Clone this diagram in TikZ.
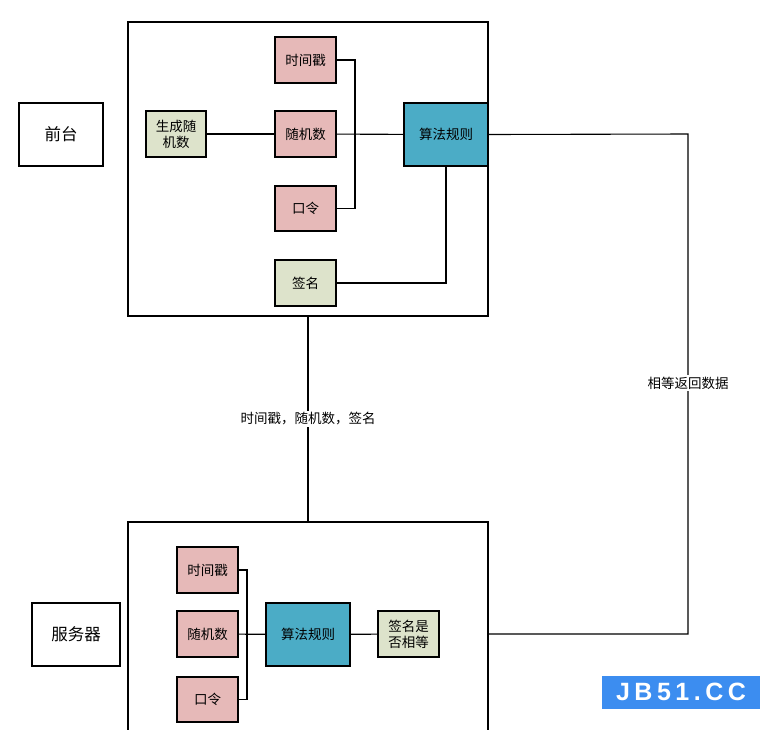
\documentclass[tikz,border=0pt]{standalone}
\usepackage{fontspec}
\setmainfont{Noto Sans CJK SC}
\newfontfamily\wmfont{Liberation Sans}[LetterSpace=18]
\usetikzlibrary{positioning}
\definecolor{keypink}{HTML}{E6B9B8}
\definecolor{keygreen}{HTML}{DDE3CB}
\definecolor{algoblue}{HTML}{4BACC6}
\definecolor{wmblue}{HTML}{3C8DF0}

\begin{document}
\begin{tikzpicture}[x=1pt,y=-1pt,font=\fontsize{13.5}{16}\selectfont,
  frame/.style={draw,line width=1.1pt,minimum width=360pt},
  role/.style={draw,line width=1.1pt,minimum height=63pt,font=\fontsize{16.5}{19}\selectfont},
  item/.style={draw,line width=1.1pt,fill=keypink,minimum width=61pt,minimum height=46pt,align=center},
  gitem/.style={item,fill=keygreen},
  algo/.style={draw,line width=1.1pt,fill=algoblue,minimum width=84pt,minimum height=63pt},
  link/.style={draw,line width=1.1pt},
  tag/.style={fill=white,inner sep=2pt}]
\useasboundingbox (0,0) rectangle (760,729);
\clip (0,0) rectangle (760,729);
% front end
\node[frame,minimum height=294pt](top) at (308,169){};
\node[role,minimum width=84pt](front) at (61,134.5){前台};
\node[gitem,minimum width=60pt](gen) at (176,134){生成随\\机数};
\node[item](ts1) at (305.5,60){时间戳};
\node[item](rnd1) at (305.5,134){随机数};
\node[item,minimum height=45pt](pw1) at (305.5,208.5){口令};
\node[gitem](sig1) at (305.5,283){签名};
\node[algo](alg1) at (446,134.5){算法规则};
\coordinate (j1) at (355,134);
\draw[link](gen)--(rnd1);
\draw[link](ts1.east)-|(j1)|-(pw1.east);
\draw[link](rnd1)--(alg1);
\draw[link](alg1.south)|-(sig1.east);
% server
\node[frame,minimum height=224pt](bot) at (308,634){};
\node[role,minimum width=88pt](server) at (76,634.5){服务器};
\node[item](ts2) at (207.5,570){时间戳};
\node[item](rnd2) at (207.5,634){随机数};
\node[item,minimum height=45pt](pw2) at (207.5,699.5){口令};
\node[algo](alg2) at (308,634.5){算法规则};
\node[gitem](cmp) at (408.5,634){签名是\\否相等};
\coordinate (j2) at (247,634);
\draw[link](ts2.east)-|(j2)|-(pw2.east);
\draw[link](rnd2)--(alg2);
\draw[link](alg2)--(cmp);
% between the two
\coordinate (r1) at (688,134);
\coordinate (r2) at (688,634);
\draw[link](top.south)--node[tag](sent){时间戳，随机数，签名}(bot.north);
\draw[link](alg1.east)--(r1)--node[tag,pos=0.498](back){相等返回数据}(r2)--(bot.east);
\node[fill=wmblue,text=white,minimum width=158pt,minimum height=33pt,inner sep=0pt,
  font=\wmfont\bfseries\fontsize{25}{25}\selectfont](wm) at (681,692){JB51.CC};
\end{tikzpicture}
\end{document}
